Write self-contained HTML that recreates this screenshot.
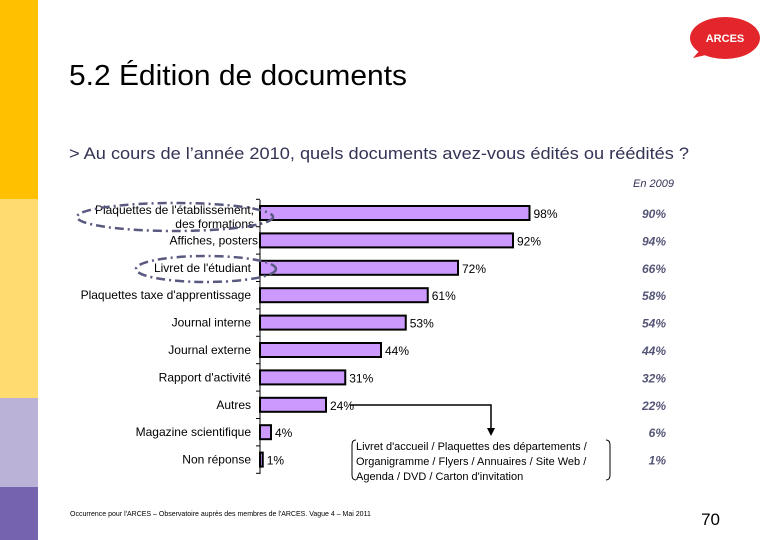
<!DOCTYPE html>
<html><head><meta charset="utf-8"><style>
body{margin:0;width:780px;height:540px;overflow:hidden;background:#fff;font-family:"Liberation Sans",sans-serif}
svg{display:block}
</style></head><body>
<svg id="c" width="780" height="540" xmlns="http://www.w3.org/2000/svg">
<rect x="0" y="0" width="38" height="199" fill="#ffc000"/>
<rect x="0" y="199" width="38" height="199" fill="#ffdb70"/>
<rect x="0" y="398" width="38" height="89" fill="#bbb3d7"/>
<rect x="0" y="487" width="38" height="53" fill="#7563b0"/>
<g>
<ellipse cx="725" cy="38" rx="35" ry="21" fill="#e3262b"/>
<path d="M700 50 L693 58 L710 54 Z" fill="#e3262b"/>
<text x="725" y="42" font-size="11" font-weight="bold" fill="#fff" text-anchor="middle">ARCES</text>
</g>
<text x="69" y="85" font-size="29" fill="#000" textLength="338" lengthAdjust="spacingAndGlyphs">5.2 Édition de documents</text>
<text x="69" y="159" font-size="17" fill="#333355" textLength="620" lengthAdjust="spacingAndGlyphs">&gt;  Au cours de l’année 2010, quels documents avez-vous édités ou réédités ?</text>
<text x="674" y="187" font-size="11" font-style="italic" fill="#333355" text-anchor="end">En 2009</text>
<g id="bars"></g>
<line x1="260" y1="200" x2="260" y2="474" stroke="#000"/>
<g fill="none" stroke="#5a5a80" stroke-width="2.5" stroke-dasharray="9,4,2,4">
<ellipse cx="175" cy="217" rx="98" ry="14"/>
<ellipse cx="206" cy="269" rx="70" ry="13"/>
</g>
<g>
<polyline points="350,405 491,405 491,430" fill="none" stroke="#000" stroke-width="1.5"/>
<path d="M487 428 L495 428 L491 436 Z" fill="#000"/>
<path d="M356 440 q-4 0 -4 5 v30 q0 5 4 5" fill="none" stroke="#000"/>
<path d="M606 440 q4 0 4 5 v30 q0 5 -4 5" fill="none" stroke="#000"/>
<text font-size="11" fill="#000"><tspan x="356" y="450">Livret d'accueil / Plaquettes des départements /</tspan><tspan x="356" y="465">Organigramme / Flyers / Annuaires / Site Web /</tspan><tspan x="356" y="480">Agenda / DVD / Carton d'invitation</tspan></text>
</g>
<text x="70" y="516" font-size="7" fill="#000">Occurrence pour l'ARCES – Observatoire auprès des membres de l'ARCES. Vague 4 – Mai 2011</text>
<text x="720" y="525" font-size="17" fill="#000" text-anchor="end">70</text>
</svg>
<script>
const categories=["Plaquettes de l'établissement, des formations","Affiches, posters","Livret de l'étudiant","Plaquettes taxe d'apprentissage","Journal interne","Journal externe","Rapport d'activité","Autres","Magazine scientifique","Non réponse"];
const values2010=[98,92,72,61,53,44,31,24,4,1];
const values2009=[90,94,66,58,54,44,32,22,6,1];
const NS="http://www.w3.org/2000/svg";
const g=document.getElementById('bars');
const x0=260, pxPer=2.75, top0=213, step=27.4, bh=14;
const xs=v=>x0+v*pxPer;
const ys=i=>top0+i*step;
function mk(t,a){const e=document.createElementNS(NS,t);for(const k in a)e.setAttribute(k,a[k]);g.appendChild(e);return e;}
categories.forEach((c,i)=>{
  const y=ys(i);
  const r=mk('rect',{x:x0,y:y-bh/2,width:xs(values2010[i])-x0,height:bh,fill:'#cc99ff',stroke:'#000','stroke-width':2});
  
  
  mk('line',{x1:x0-4,x2:x0,y1:y-step/2,y2:y-step/2,stroke:'#000'});
  if(i===0){
    const l=mk('text',{x:x0-6,y:y,'font-size':12,'text-anchor':'end',fill:'#000'});
    l.innerHTML='<tspan x="254" y="214">Plaquettes de l\'établissement,</tspan><tspan x="254" y="228">des formations</tspan>';
    
    
  } else {
    const l=mk('text',{x:(i===1?x0-2:x0-9),y:y+4,'font-size':12,'text-anchor':'end',fill:'#000'});
    l.textContent=c;
    
    
  }
  const v=mk('text',{x:xs(values2010[i])+4,y:y+5,'font-size':12,fill:'#000'});
  v.textContent=values2010[i]+'%';
  
  
  const p=mk('text',{x:666,y:y+5,'font-size':12,'font-style':'italic','font-weight':'bold',fill:'#555577','text-anchor':'end'});
  p.textContent=values2009[i]+'%';
  
  
});
mk('line',{x1:x0-4,x2:x0,y1:ys(9)+step/2,y2:ys(9)+step/2,stroke:'#000'});
</script>
</body></html>
